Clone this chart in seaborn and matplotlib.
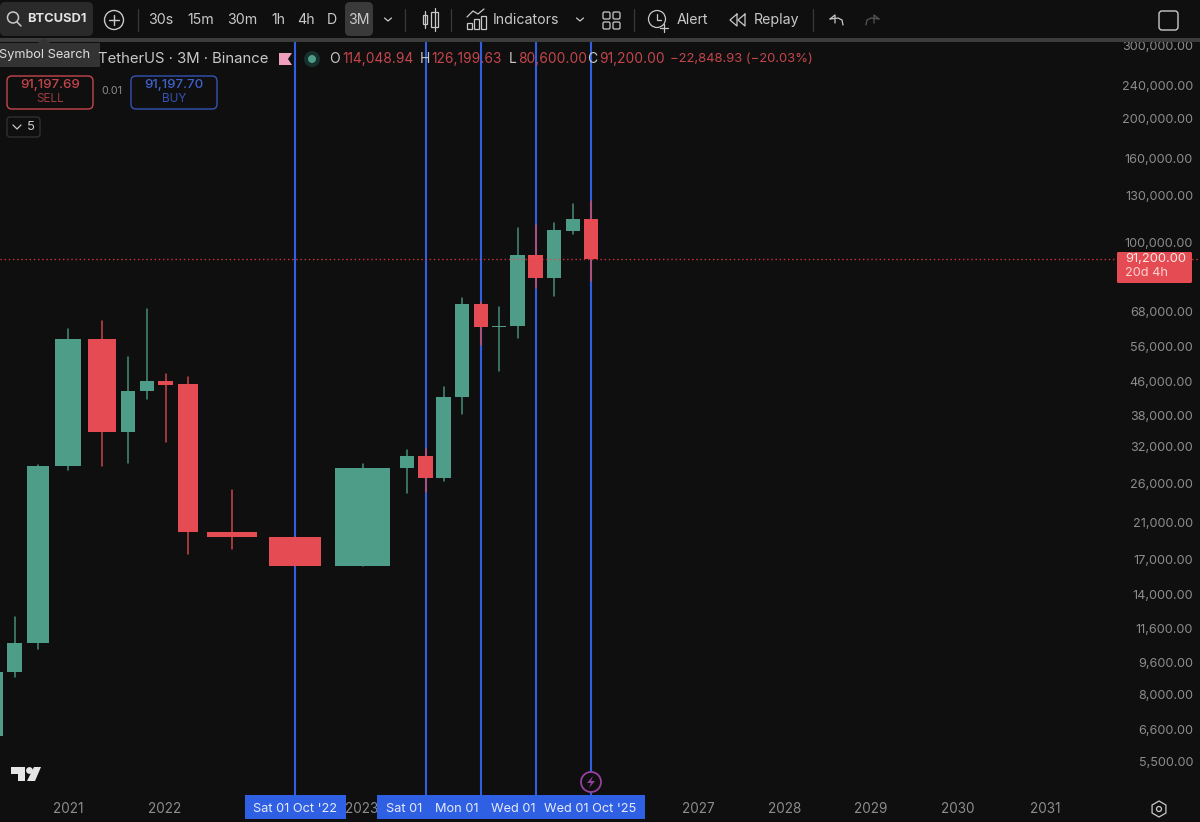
import numpy as np
import pandas as pd
import matplotlib
matplotlib.use('Agg')
import matplotlib.pyplot as plt
from matplotlib.patches import Circle, FancyBboxPatch, Polygon, Rectangle
from matplotlib.ticker import NullLocator
import seaborn as sns

# quarterly BTCUSDT candles
quarters = ['Q2 20', 'Q3 20', 'Q4 20', 'Q1 21', 'Q2 21', 'Q3 21', 'Q4 21', 'Q1 22', 'Q2 22', 'Q3 22', 'Q4 22', 'Q1 23',
            'Q2 23', 'Q3 23', 'Q4 23', 'Q1 24', 'Q2 24', 'Q3 24', 'Q4 24', 'Q1 25', 'Q2 25', 'Q3 25', 'Q4 25']
opens = [6350, 9080, 10680, 28700, 58400, 34700, 43650, 46200, 45400, 19860, 19300, 16420,
         28400, 30400, 26850, 42200, 71000, 62400, 62800, 93300, 82100, 107000, 114049]
closes = [9080, 10680, 28700, 58400, 34700, 43650, 46200, 45150, 19860, 19300, 16420, 28400,
          30400, 26850, 42200, 71000, 62400, 62800, 93300, 82100, 107300, 114049, 91200]
highs = [9080, 12350, 28900, 61700, 64550, 52800, 69000, 48000, 47200, 25100, 19300, 29000,
         31400, 31600, 44650, 73400, 71800, 69800, 108500, 110400, 111600, 124100, 126200]
lows = [6350, 8830, 10330, 28100, 28700, 29200, 41750, 32800, 17560, 18060, 16420, 16420,
        24700, 24800, 26400, 38400, 56450, 48800, 58700, 77600, 74200, 105000, 80600]

# the time axis on this chart is not even, so slots are read off too
slot_x = [-5, 14.5, 37.7, 68, 102, 128, 147, 165.5, 188, 232, 295, 362.5,
          407, 425.5, 443.5, 462, 481, 499, 517.5, 535.5, 554, 573, 591]
slot_w = [15, 15, 22, 26, 28, 14, 14, 15, 20, 50, 52, 55,
          14, 14.5, 15, 14, 14, 14, 15, 15, 14, 14, 14]

price_ticks = [300000, 240000, 200000, 160000, 130000, 100000, 68000, 56000, 46000, 38000, 32000,
               26000, 21000, 17000, 14000, 11600, 9600, 8000, 6600, 5500]
year_x = [68, 165, 362, 698, 785, 871, 958, 1045]
year_labels = ['2021', '2022', '2023', '2027', '2028', '2029', '2030', '2031']
event_x = [295, 425.5, 480.5, 535.5, 591]
event_labels = ["Sat 01 Oct '22", 'Sat 01', 'Mon 01', 'Wed 01', "Wed 01 Oct '25"]
event_label_x = [295, 404, 457, 513, 590]
last_price = 91200

BG = '#0f0f0f'
GREEN = '#4d9d88'
RED = '#e54b52'
DIMRED = '#c4464c'
BLUE = '#2f5fe3'
GREY = '#8c8c8c'
LIGHT = '#c9c9c9'

sns.set_theme(style='dark', rc={'axes.facecolor': BG, 'figure.facecolor': BG})
plt.rcParams['font.family'] = ['Inter', 'DejaVu Sans']

df = pd.DataFrame({'quarter': quarters, 'open': opens, 'close': closes, 'high': highs, 'low': lows,
                   'x': slot_x, 'w': slot_w})
df['up'] = df['close'] >= df['open']
wicks = df.melt(id_vars=['quarter', 'x', 'up'], value_vars=['low', 'high'], value_name='price')

fig = plt.figure(figsize=(12, 8.22), dpi=100)
ax = fig.add_axes([0, 0, 1, 1])
ax.set_yscale('log')
ax.set_xlim(0, 1200)
# 179 px per e-fold, 100,000 sits at y=242.65 px
ax.set_ylim(100000 * np.exp((242.65 - 822) / 179), 100000 * np.exp(242.65 / 179))

for x in event_x:
    ax.axvline(x, ymin=27 / 822, color=BLUE, lw=1.5, zorder=1)

sns.lineplot(data=wicks, x='x', y='price', units='quarter', hue='up', palette={True: GREEN, False: RED},
             estimator=None, sort=False, lw=1.15, alpha=0.85, legend=False, ax=ax, zorder=2)

ax.bar(df['x'], df['close'] - df['open'], bottom=df['open'], width=df['w'],
       color=[GREEN if u else RED for u in df['up']], linewidth=0, zorder=3)
ax.axhline(last_price, color='#ff3b45', lw=1.0, ls=(0, (1, 2)), alpha=0.8, zorder=4)

ax.yaxis.tick_right()
ax.set_yticks(price_ticks)
ax.set_yticklabels([f'{p:,.2f}' for p in price_ticks])
ax.yaxis.set_minor_locator(NullLocator())
ax.tick_params(axis='y', length=0, pad=-5, labelsize=9.1, labelcolor=GREY)
for lab in ax.get_yticklabels():
    lab.set_ha('right')
ax.set_xticks(year_x)
ax.set_xticklabels(year_labels)
ax.tick_params(axis='x', length=0, pad=-14.5, labelsize=9.8, labelcolor=GREY)
ax.set_xlabel('')
ax.set_ylabel('')
ax.grid(False)
sns.despine(ax=ax, left=True, bottom=True)

# interface drawn on top, in pixel coordinates
ui = fig.add_axes([0, 0, 1, 1])
ui.set_xlim(0, 1200)
ui.set_ylim(822, 0)
ui.axis('off')


def txt(x, y, s, color=LIGHT, size=9.5, ha='center', **kw):
    ui.text(x, y, s, color=color, fontsize=size, ha=ha, va='center', **kw)


def box(x0, y0, x1, y1, face='none', edge='none', lw=1.0, r=4):
    ui.add_patch(FancyBboxPatch((x0 + r, y0 + r), x1 - x0 - 2 * r, y1 - y0 - 2 * r,
                                boxstyle=f'round,pad={r}', fc=face, ec=edge, lw=lw))


def line(xs, ys, color=LIGHT, lw=1.0):
    ui.plot(xs, ys, color=color, lw=lw, solid_capstyle='round')


ui.add_patch(Rectangle((0, 0), 1200, 38, fc=BG, ec='none'))
ui.add_patch(Rectangle((0, 38), 1200, 4, fc='#3c3c3c', ec='none'))

# top bar
box(0, 2, 93, 36, face='#2a2a2a', r=5)
ui.add_patch(Circle((13, 17.5), 5.5, fc='none', ec=LIGHT, lw=1.1))
line([17, 21], [22, 26], lw=1.1)
txt(27, 19, 'BTCUSD1', color='#e2e2e2', size=9.3, ha='left', fontweight='bold')
ui.add_patch(Circle((114, 20), 9.5, fc='none', ec=LIGHT, lw=1.0))
line([114, 114], [15, 25])
line([109, 119], [20, 20])
box(345, 2, 373, 36, face='#3a3a3a', r=5)
for x, s in zip([161, 201, 242, 278, 306, 332, 359], ['30s', '15m', '30m', '1h', '4h', 'D', '3M']):
    txt(x, 20, s, size=10.2)
for x in [138, 405, 451, 634, 813]:
    line([x, x], [9, 31], color='#3a3a3a', lw=0.9)
for x in [388, 580]:
    line([x - 3.5, x, x + 3.5], [18, 21, 18], lw=0.9)
# candle icon
ui.add_patch(Rectangle((423, 15), 4, 9, fc='none', ec=LIGHT, lw=0.9))
ui.add_patch(Rectangle((431, 12), 7, 15, fc='none', ec=LIGHT, lw=0.9))
line([425, 425], [11, 28], lw=0.9)
line([434.5, 434.5], [8, 31], lw=0.9)
# indicators icon
for x0, h in zip([467, 474, 481], [6, 10, 13]):
    ui.add_patch(Rectangle((x0, 29 - h), 5, h, fc='none', ec=LIGHT, lw=0.9))
line([467, 473, 478, 484], [17, 11, 14, 9], lw=0.9)
txt(526, 20, 'Indicators', size=10.2)
# layout icon
for x0 in [603, 613]:
    for y0 in [12, 22]:
        box(x0, y0, x0 + 7, y0 + 7, edge=LIGHT, lw=0.9, r=1.5)
# alert icon
ui.add_patch(Circle((657, 19), 8.5, fc=BG, ec=LIGHT, lw=0.9))
line([657, 657, 661], [14, 20, 20], lw=0.9)
line([660, 668], [28, 28], lw=0.9)
line([664, 664], [24, 32], lw=0.9)
txt(692, 20, 'Alert', size=10.2)
# replay icon
line([737, 730, 737, 737], [14, 20, 26, 14], lw=0.9)
line([745, 738, 745, 745], [14, 20, 26, 14], lw=0.9)
txt(777, 20, 'Replay', size=10.2)
# undo, redo, fullscreen box
line([830, 835, 835], [19, 15, 23], lw=0.9)
line([830, 838, 842, 843], [19, 18, 20, 25], lw=0.9)
line([879, 874, 874], [19, 15, 23], color='#555555', lw=0.9)
line([879, 871, 867, 866], [19, 18, 20, 25], color='#555555', lw=0.9)
box(1159, 11, 1178, 30, edge=LIGHT, lw=1.0, r=3)

# tooltip
ui.add_patch(Rectangle((0, 43), 100, 24, fc='#333333', ec='none'))
ui.add_patch(Polygon([[38, 43], [44, 38], [50, 43]], fc='#333333', ec='none'))
txt(-1, 55, 'Symbol Search', color='#dddddd', size=9.2, ha='left')

# legend row
txt(98, 59, 'TetherUS · 3M · Binance', color=LIGHT, size=10.7, ha='left')
ui.add_patch(Polygon([[279, 53], [292, 53], [288, 59], [292, 65], [279, 65]], fc='#ef9ebd', ec='none'))
ui.add_patch(Circle((312, 59), 8, fc='#17302b', ec='none'))
ui.add_patch(Circle((312, 59), 4, fc=GREEN, ec='none'))
ohlc = [(334, 'O', 342, '114,048.94'), (425, 'H', 431, '126,199.63'), (513, 'L', 518, '80,600.00'), (592, 'C', 599, '91,200.00')]
for x0, k, x1, v in ohlc:
    txt(x0, 59, k, color=LIGHT, size=10)
    txt(x1, 59, v, color=DIMRED, size=9.9, ha='left')
txt(670, 59, '−22,848.93 (−20.03%)', color=DIMRED, size=9.4, ha='left')

# trade buttons
box(7, 76, 93, 109, edge=DIMRED, lw=1.0, r=5)
txt(50, 85, '91,197.69', color=DIMRED, size=9.6, fontweight='medium')
txt(50, 99, 'SELL', color='#9c3b40', size=8.5)
txt(112, 91, '0.01', color=GREY, size=7.8)
box(131, 76, 217, 109, edge='#3553b5', lw=1.0, r=5)
txt(174, 85, '91,197.70', color='#3f62cc', size=9.6, fontweight='medium')
txt(174, 99, 'BUY', color='#3553b5', size=8.5)
box(7, 117, 40, 137, edge='#333333', lw=0.9, r=3)
line([13, 17, 21], [125, 129, 125], lw=0.9)
txt(31, 127, '5', size=9.4)

# last price tag
box(1117, 252, 1192, 283, face=RED, r=1.5)
txt(1125, 259, '91,200.00', color='#ffe6e6', size=9.3, ha='left')
txt(1125, 273, '20d 4h', color='#ffd2d2', size=9.2, ha='left')

# event date tags
ui.add_patch(Rectangle((245, 795), 101, 24, fc=BLUE, ec='none'))
ui.add_patch(Rectangle((377, 795), 268, 24, fc=BLUE, ec='none'))
for x, s in zip(event_label_x, event_labels):
    txt(x, 808.5, s, color='#e6ebfb', size=9.2)

# lightning marker
ui.add_patch(Circle((591, 782), 10, fc=BG, ec='#96409f', lw=1.3))
ui.add_patch(Polygon([[593, 776], [587, 783], [591, 783], [589, 788], [595, 781], [591, 781]], fc='#96409f', ec='none'))

# tradingview logo
ui.add_patch(Polygon([[11, 767], [25, 767], [25, 781], [18, 781], [18, 774], [11, 774]], fc='#e6e6e6', ec='none'))
ui.add_patch(Circle((29.5, 770.5), 3.4, fc='#e6e6e6', ec='none'))
ui.add_patch(Polygon([[34, 767], [41, 767], [35, 781], [27, 781]], fc='#e6e6e6', ec='none'))

# settings gear
ui.add_patch(Polygon([[1159 + 8 * np.cos(a), 809 + 8 * np.sin(a)] for a in np.arange(6) * np.pi / 3 + np.pi / 6],
                     fc='none', ec=LIGHT, lw=0.9))
ui.add_patch(Circle((1159, 809), 2.5, fc='none', ec=LIGHT, lw=0.9))

fig.savefig('out.png', dpi=100, facecolor=BG)
